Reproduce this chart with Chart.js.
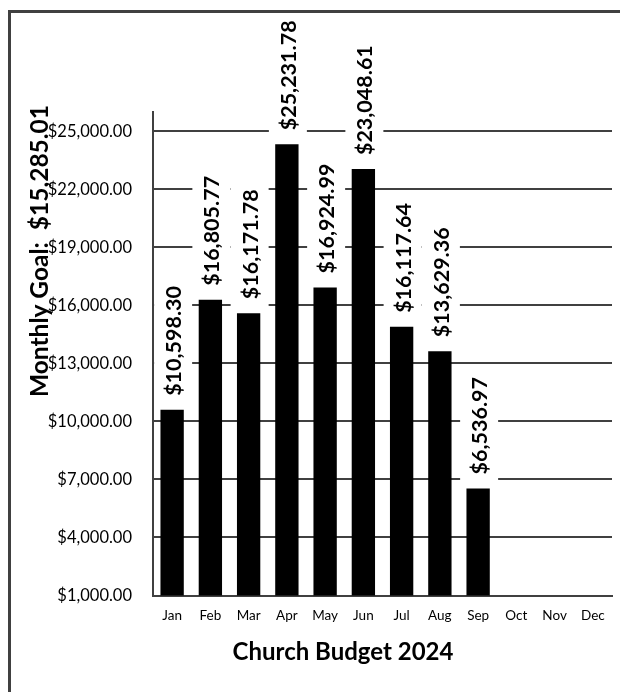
<!DOCTYPE html>
<html>
<head>
<meta charset="utf-8">
<script src="https://cdn.jsdelivr.net/npm/chart.js@4/dist/chart.umd.min.js"></script>
<style>
  html, body { margin: 0; padding: 0; background: #fff; }
  #wrap { width: 620px; height: 692px; position: relative; }
</style>
</head>
<body>
<div id="wrap"><canvas id="c" width="620" height="692"></canvas></div>
<script>
const months = ['Jan','Feb','Mar','Apr','May','Jun','Jul','Aug','Sep','Oct','Nov','Dec'];
const barValues = [10598.30, 16290, 15600, 24330, 16924.99, 23048.61, 14890, 13629.36, 6536.97, null, null, null];
const barLabels = ['$10,598.30','$16,805.77','$16,171.78','$25,231.78','$16,924.99','$23,048.61','$16,117.64','$13,629.36','$6,536.97','','',''];
const yTickValues = [1000, 4000, 7000, 10000, 13000, 16000, 19000, 22000, 25000];
const chartTitle = 'Church Budget 2024';
const goalText = 'Monthly Goal:  $15,285.01';

const FONT = 'Lato, "Open Sans", sans-serif';
const GRID = '#404040';

const textPlugin = {
  id: 'texts',
  afterDraw(chart) {
    const ctx = chart.ctx;
    const meta = chart.getDatasetMeta(0);
    ctx.save();
    ctx.font = 'bold 21.5px ' + FONT;
    meta.data.forEach((el, i) => {
      if (barValues[i] == null || !barLabels[i]) return;
      const txt = barLabels[i];
      const w = ctx.measureText(txt).width;
      const gap = 14, pad = 10, half = 19;
      ctx.save();
      ctx.translate(el.x + 1, el.y - gap);
      ctx.rotate(-Math.PI / 2);
      ctx.fillStyle = '#fff';
      ctx.fillRect(-pad, -half, w + 2 * pad, 2 * half);
      ctx.fillStyle = '#000';
      ctx.textAlign = 'left';
      ctx.textBaseline = 'middle';
      ctx.fillText(txt, 0, 1);
      ctx.restore();
    });
    // goal label (rotated)
    ctx.save();
    ctx.font = 'bold 24.5px ' + FONT;
    ctx.translate(40, 251);
    ctx.rotate(-Math.PI / 2);
    ctx.fillStyle = '#000';
    ctx.textAlign = 'center';
    ctx.textBaseline = 'middle';
    ctx.fillText(goalText, 0, 0);
    ctx.restore();
    // title
    ctx.font = 'bold 24px ' + FONT;
    ctx.fillStyle = '#000';
    ctx.textAlign = 'center';
    ctx.textBaseline = 'middle';
    ctx.fillText(chartTitle, 343, 652);
    // outer frame
    ctx.strokeStyle = GRID;
    ctx.lineWidth = 3;
    ctx.strokeRect(9.5, 11.5, 700, 800);
    ctx.restore();
  }
};

new Chart(document.getElementById('c'), {
  type: 'bar',
  data: {
    labels: months,
    datasets: [{
      data: barValues,
      backgroundColor: '#000',
      borderWidth: 0,
      categoryPercentage: 1,
      barPercentage: 0.61
    }]
  },
  options: {
    responsive: false,
    animation: false,
    devicePixelRatio: 1,
    layout: { padding: { top: 112, right: 8, bottom: 0, left: 0 } },
    plugins: { legend: { display: false }, tooltip: { enabled: false }, title: { display: false } },
    scales: {
      x: {
        grid: { display: false, drawTicks: false },
        border: { display: true, color: GRID, width: 2 },
        ticks: { font: { family: FONT, size: 13.5 }, color: '#000', padding: 12, autoSkip: false, maxRotation: 0 },
        afterFit(s) { s.height = 96.5; }
      },
      y: {
        min: 1000,
        max: 26000,
        afterBuildTicks(s) { s.ticks = yTickValues.map(v => ({ value: v })); },
        afterFit(s) { s.width = 153; },
        grid: { color: GRID, lineWidth: 2, drawTicks: false },
        border: { display: true, color: GRID, width: 2 },
        ticks: {
          font: { family: FONT, size: 16.5 },
          color: '#000',
          padding: 21,
          callback: v => '$' + Number(v).toLocaleString('en-US', { minimumFractionDigits: 2, maximumFractionDigits: 2 })
        }
      }
    }
  },
  plugins: [textPlugin]
});
</script>
</body>
</html>
